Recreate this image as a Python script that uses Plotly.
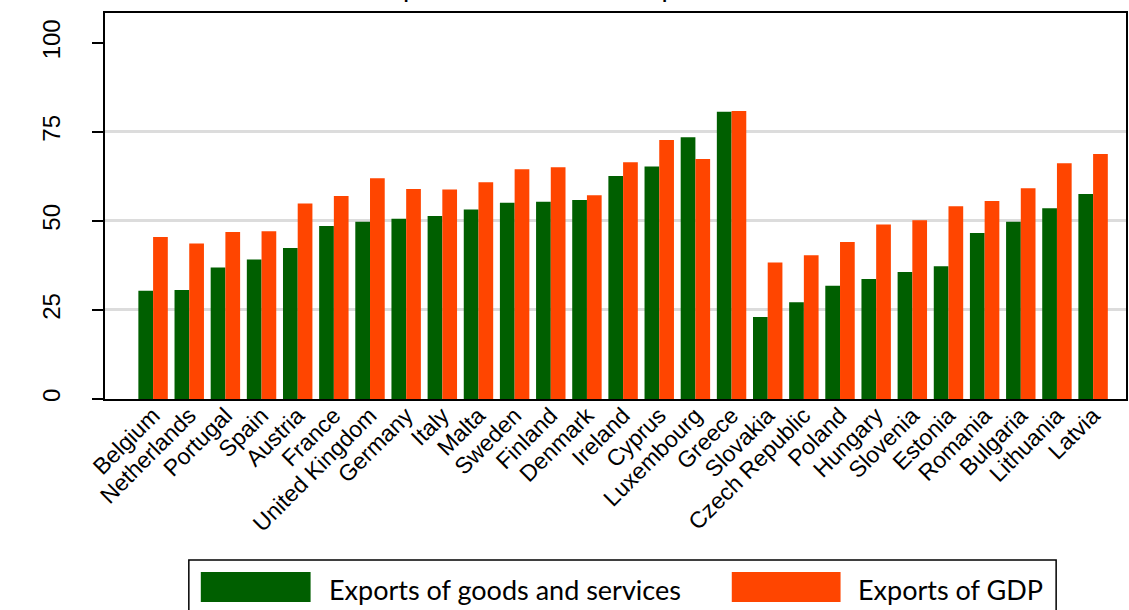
import plotly.graph_objects as go

countries = ["Belgium", "Netherlands", "Portugal", "Spain", "Austria", "France",
             "United Kingdom", "Germany", "Italy", "Malta", "Sweden", "Finland",
             "Denmark", "Ireland", "Cyprus", "Luxembourg", "Greece", "Slovakia",
             "Czech Republic", "Poland", "Hungary", "Slovenia", "Estonia",
             "Romania", "Bulgaria", "Lithuania", "Latvia"]
goods_services = [30.4, 30.6, 36.9, 39.2, 42.4, 48.6, 49.8, 50.6, 51.4, 53.2, 55.1, 55.4,
                  55.9, 62.6, 65.3, 73.5, 80.7, 23.0, 27.2, 31.8, 33.7, 35.7, 37.3,
                  46.6, 49.8, 53.6, 57.6]
gdp = [45.5, 43.7, 46.9, 47.1, 54.9, 57.0, 62.0, 59.0, 58.8, 60.9, 64.5, 65.1,
       57.2, 66.5, 72.7, 67.4, 80.9, 38.3, 40.4, 44.1, 49.0, 50.2, 54.1,
       55.6, 59.2, 66.2, 68.8]
series_names = ["Exports of goods and services", "Exports of GDP"]
y_ticks = [0, 25, 50, 75, 100]
grid_vals = [25, 50, 75]
title_text = "Comparison of the two export measures"

GREEN = "#005f00"
ORANGE = "#ff4500"
AX_FONT = "Liberation Sans, Arial, sans-serif"
LEG_FONT = "Lato, Calibri, sans-serif"

W, H = 1129, 610
ML, MR, MT, MB = 105, 1, 13, 211
PW, PH = W - ML - MR, H - MT - MB


def px(x):
    return (x - ML) / PW


def py(y):
    return (H - MB - y) / PH


fig = go.Figure()
fig.add_trace(go.Bar(x=countries, y=goods_services, name=series_names[0],
                     marker=dict(color=GREEN, line=dict(width=0))))
fig.add_trace(go.Bar(x=countries, y=gdp, name=series_names[1],
                     marker=dict(color=ORANGE, line=dict(width=0))))
# invisible trace to drive the grid axis
fig.add_trace(go.Scatter(x=[countries[0]], y=[0], yaxis="y2", mode="markers",
                         marker=dict(opacity=0), showlegend=False, hoverinfo="skip"))

fig.update_layout(
    width=W, height=H, autosize=False,
    margin=dict(l=ML, r=MR, t=MT, b=MB, pad=0),
    paper_bgcolor="white", plot_bgcolor="white",
    barmode="group", bargap=0.186, bargroupgap=0,
    showlegend=False,
    xaxis=dict(range=[-1.33, 26.91], showline=True, linecolor="black", linewidth=2,
               mirror=True, ticks="", tickangle=-45, ticklabelstandoff=-8,
               tickfont=dict(family=AX_FONT, size=23, color="black"),
               showgrid=False),
    yaxis=dict(range=[0, 108.4], tickvals=y_ticks, ticktext=[str(v) for v in y_ticks],
               showline=True, linecolor="black", linewidth=2, mirror=True,
               ticks="outside", ticklen=11, tickwidth=1.5, tickcolor="black",
               tickangle=-90, ticklabelstandoff=22,
               tickfont=dict(family=AX_FONT, size=24, color="black"),
               showgrid=False, zeroline=False),
    yaxis2=dict(range=[0, 108.4], overlaying="y", tickvals=grid_vals,
                showticklabels=False, showgrid=True, gridcolor="#dcdcdc", gridwidth=2.5,
                zeroline=False, showline=False, ticks=""),
)

# title (mostly cut off at top, as in the reference)
fig.add_annotation(text=title_text, xref="paper", yref="paper", x=px(593), y=py(4),
                   xanchor="center", yanchor="bottom", showarrow=False,
                   font=dict(family=AX_FONT, size=28, color="black"))

# legend box drawn manually
shapes = [
    dict(type="rect", xref="paper", yref="paper", x0=px(189), x1=px(1058),
         y0=py(630), y1=py(560), line=dict(color="black", width=1.5), fillcolor="white"),
    dict(type="rect", xref="paper", yref="paper", x0=px(201), x1=px(311),
         y0=py(602), y1=py(572), line=dict(width=0), fillcolor=GREEN),
    dict(type="rect", xref="paper", yref="paper", x0=px(733), x1=px(842),
         y0=py(602), y1=py(572), line=dict(width=0), fillcolor=ORANGE),
]
fig.update_layout(shapes=shapes)
fig.add_annotation(text=series_names[0], xref="paper", yref="paper", x=px(327), y=py(589),
                   xanchor="left", yanchor="middle", showarrow=False,
                   font=dict(family=LEG_FONT, size=27, color="black"))
fig.add_annotation(text=series_names[1], xref="paper", yref="paper", x=px(857), y=py(589),
                   xanchor="left", yanchor="middle", showarrow=False,
                   font=dict(family=LEG_FONT, size=27, color="black"))

fig.write_html("out.html", config={"displayModeBar": False},
               post_script="document.body.style.margin='0';")
